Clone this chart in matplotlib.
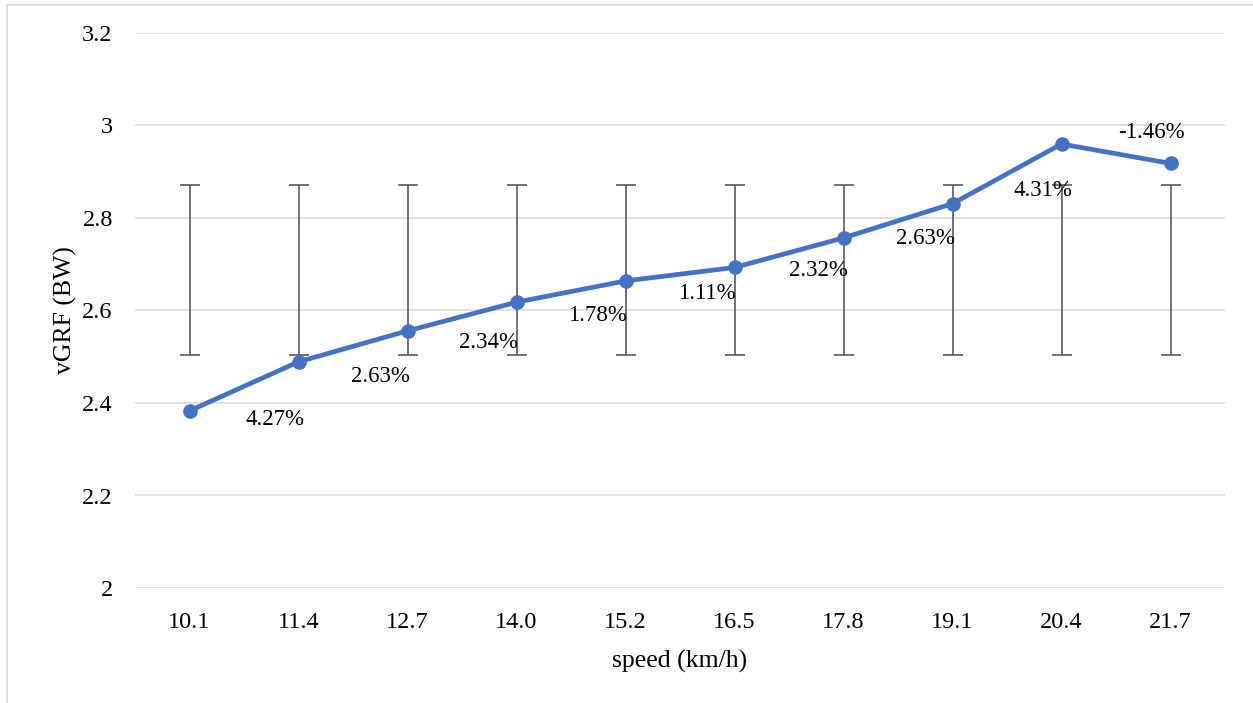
import numpy as np
import matplotlib
matplotlib.use('Agg')
import matplotlib.pyplot as plt
from matplotlib.patches import Rectangle

plt.rcParams['font.family'] = ['Liberation Serif', 'DejaVu Serif']

# 速度 (km/h) 與 vGRF (BW)
speeds = ['10.1', '11.4', '12.7', '14.0', '15.2', '16.5', '17.8', '19.1', '20.4', '21.7']
vgrf = [2.383, 2.489, 2.556, 2.618, 2.664, 2.693, 2.757, 2.831, 2.960, 2.918]
pct_change = ['', '4.27%', '2.63%', '2.34%', '1.78%', '1.11%', '2.32%', '2.63%', '4.31%', '-1.46%']
err_low = [2.504] * 10
err_high = [2.871] * 10

# 標籤位移 (pixels, 右/上為正)
label_offsets = [(0, 0), (-23, -58), (-27, -46), (-28, -40), (-28, -35),
                 (-28, -26), (-25, -33), (-27, -35), (-19, -46), (-19, 31)]

x = np.arange(len(speeds))
err_mid = (np.array(err_low) + np.array(err_high)) / 2
err_half = (np.array(err_high) - np.array(err_low)) / 2

fig = plt.figure(figsize=(12.53, 7.03), dpi=100)
ax = fig.add_axes([135 / 1253, 1 - 588 / 703, 1090 / 1253, 555 / 703])

# 外框
fig.patches.append(Rectangle((7 / 1253, -0.1), 1.2, 1 - 5 / 703 + 0.1, transform=fig.transFigure,
                             fill=False, edgecolor='#d9d9d9', linewidth=1.2))

ax.set_ylim(2, 3.2)
ax.set_xlim(-0.5, len(speeds) - 0.5)
ax.set_yticks(np.arange(2, 3.21, 0.2))
ax.set_yticklabels(['2', '2.2', '2.4', '2.6', '2.8', '3', '3.2'])
ax.set_xticks(x)
ax.set_xticklabels(speeds)
ax.grid(axis='y', color='#d9d9d9', linewidth=1.1)
ax.set_axisbelow(True)
for s in ax.spines.values():
    s.set_visible(False)
ax.tick_params(length=0, labelsize=17.5, colors='black')
ax.tick_params(axis='y', pad=16)
ax.tick_params(axis='x', pad=17.5)

ax.errorbar(x, err_mid, yerr=err_half, fmt='none', ecolor='#595959', elinewidth=1.2,
            capsize=7, capthick=1.2, zorder=2)
ax.plot(x, vgrf, color='#4472C4', linewidth=3.4, marker='o', markersize=9.5, zorder=3)

for i, lab in enumerate(pct_change):
    if lab == '':
        continue
    ax.annotate(lab, (x[i], vgrf[i]), xytext=label_offsets[i], textcoords='offset pixels',
                ha='center', va='center', fontsize=16.5, zorder=4)

ax.set_xlabel('speed (km/h)', fontsize=18.5, labelpad=12)
ax.set_ylabel('vGRF (BW)', fontsize=18.5, labelpad=4)

fig.savefig('out.png', dpi=100)
